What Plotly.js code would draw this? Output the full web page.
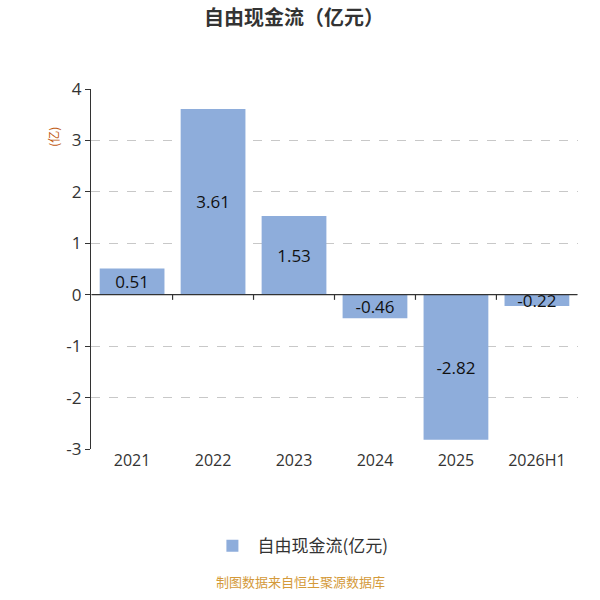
<!DOCTYPE html>
<html>
<head>
<meta charset="utf-8">
<script src="https://cdn.plot.ly/plotly-3.0.1.min.js"></script>
<style>body{margin:0;}#chart{width:600px;height:600px;}</style>
</head>
<body>
<div id="chart"></div>
<script>
var years = ["2021", "2022", "2023", "2024", "2025", "2026H1"];
var fcf = [0.51, 3.61, 1.53, -0.46, -2.82, -0.22];
var yTicks = [-3, -2, -1, 0, 1, 2, 3, 4];

var font = "Open Sans, Noto Sans CJK SC, sans-serif";
var cjk = "Noto Sans CJK SC, sans-serif";

var barTrace = {
  type: "bar",
  x: years,
  y: fcf,
  name: "自由现金流(亿元)",
  marker: { color: "#8eaddb" },
  text: fcf.map(function (v) { return v.toFixed(2); }),
  textposition: "inside",
  insidetextanchor: "middle",
  textangle: 0,
  constraintext: "none",
  textfont: { size: 17, color: "#111", family: font },
  hoverinfo: "x+y"
};

// zero line with ticks at category boundaries
var shapes = [{
  type: "line", xref: "x", yref: "y",
  x0: -0.5, x1: years.length - 0.5, y0: 0, y1: 0,
  line: { color: "#333", width: 1.2 }
}];
for (var i = 0; i < years.length - 1; i++) {
  shapes.push({
    type: "line", xref: "x", yref: "y",
    x0: i + 0.5, x1: i + 0.5, y0: 0, y1: -0.1,
    line: { color: "#333", width: 1.2 }
  });
}

var layout = {
  width: 600,
  height: 600,
  margin: { l: 91, r: 22, t: 89, b: 151 },
  paper_bgcolor: "#fff",
  plot_bgcolor: "#fff",
  font: { family: font, color: "#333" },
  title: {
    text: "<b>自由现金流（亿元）</b>",
    x: 0.49, xanchor: "center",
    y: 0.97, yanchor: "middle",
    font: { size: 20, color: "#333", family: cjk }
  },
  bargap: 0.2,
  showlegend: true,
  legend: {
    orientation: "h",
    x: 0.43, xanchor: "center",
    y: -0.27, yanchor: "middle",
    itemwidth: 40,
    font: { size: 17, color: "#333", family: cjk }
  },
  xaxis: {
    type: "category",
    showline: false,
    showgrid: false,
    zeroline: false,
    ticks: "",
    tickfont: { size: 16, color: "#333" }
  },
  yaxis: {
    range: [-3, 4],
    tickvals: yTicks,
    ticktext: yTicks.map(String),
    showline: true,
    linecolor: "#333",
    linewidth: 1.2,
    ticks: "outside",
    ticklen: 5,
    tickcolor: "#333",
    showgrid: true,
    gridcolor: "#c8c8c8",
    griddash: "dash",
    gridwidth: 1,
    zeroline: false,
    tickfont: { size: 17, color: "#333" }
  },
  shapes: shapes,
  annotations: [
    {
      text: "(亿)",
      xref: "paper", yref: "paper",
      x: -0.1, y: 0.9,
      showarrow: false,
      textangle: -90,
      font: { size: 12, color: "#c0580f", family: cjk }
    },
    {
      text: "制图数据来自恒生聚源数据库",
      xref: "paper", yref: "paper",
      x: 0.43, y: -0.4,
      xanchor: "center",
      showarrow: false,
      font: { size: 13, color: "#d49a3a", family: cjk }
    }
  ]
};

Plotly.newPlot("chart", [barTrace], layout, { displayModeBar: false });
</script>
</body>
</html>
